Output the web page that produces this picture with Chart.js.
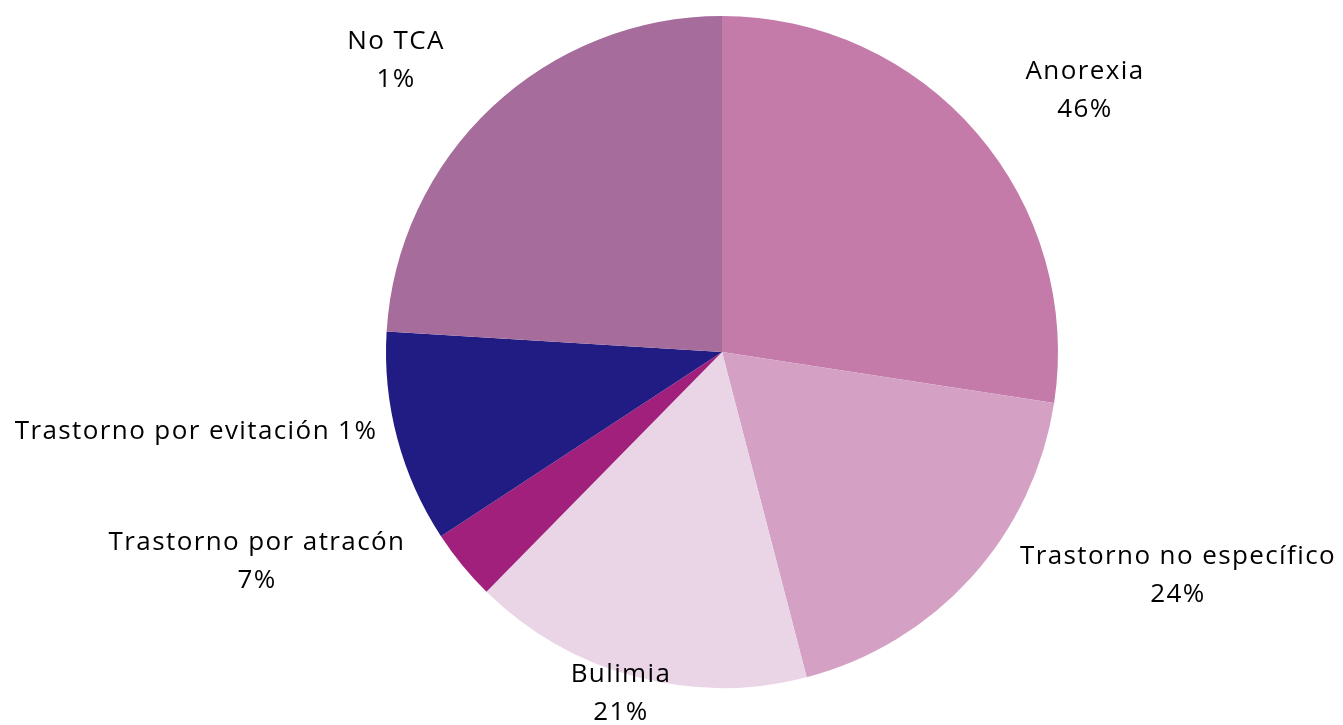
<!DOCTYPE html>
<html>
<head>
<meta charset="utf-8">
<script src="https://cdn.jsdelivr.net/npm/chart.js@4.4.1/dist/chart.umd.min.js"></script>
<style>
  html, body { margin: 0; padding: 0; background: #ffffff; }
  #pieChart { display: block; }
</style>
</head>
<body>
<canvas id="pieChart" width="1343" height="725"></canvas>
<script>
// categories, slice sizes and the printed labels
const categories = ['Anorexia', 'Trastorno no específico', 'Bulimia', 'Trastorno por atracón', 'Trastorno por evitación', 'No TCA'];
const sliceValues = [27.4, 18.5, 16.4, 3.4, 10.2, 24.0];
const percentLabels = ['46%', '24%', '21%', '7%', '1%', '1%'];
const sliceColors = ['#C47BAA', '#D4A1C4', '#EAD5E7', '#A0207C', '#201C84', '#A66C9B'];

// label placement, offsets from pie centre (px); inline = name and % on one line
const labelPlacement = [
    { dx: 363, dy: -261 },
    { dx: 456, dy: 224 },
    { dx: -101, dy: 342 },
    { dx: -465, dy: 210 },
    { dx: -526, dy: 80, inline: true },
    { dx: -326, dy: -291 }
];

const pieLabels = {
    id: 'pieLabels',
    afterDatasetsDraw(chart) {
        const c = chart.ctx;
        const meta = chart.getDatasetMeta(0);
        const arc = meta.data[0];
        const cx = arc.x, cy = arc.y;
        c.save();
        c.font = '26px "Open Sans", sans-serif';
        c.letterSpacing = '1.4px';
        c.fillStyle = '#000000';
        c.textAlign = 'center';
        c.textBaseline = 'middle';
        categories.forEach((name, i) => {
            const p = labelPlacement[i];
            if (p.inline) {
                c.fillText(name + ' ' + percentLabels[i], cx + p.dx, cy + p.dy);
            } else {
                c.fillText(name, cx + p.dx, cy + p.dy - 19);
                c.fillText(percentLabels[i], cx + p.dx, cy + p.dy + 19);
            }
        });
        c.restore();
    }
};

const ctx = document.getElementById('pieChart').getContext('2d');
const pieChart = new Chart(ctx, {
    type: 'pie',
    plugins: [pieLabels],
    data: {
        labels: categories,
        datasets: [{
            data: sliceValues,
            backgroundColor: sliceColors,
            borderWidth: 0
        }]
    },
    options: {
        responsive: false,
        animation: false,
        layout: { padding: { top: 16, bottom: 37, left: 101, right: 0 } },
        plugins: {
            legend: { display: false },
            tooltip: { enabled: false }
        }
    }
});
</script>
</body>
</html>
